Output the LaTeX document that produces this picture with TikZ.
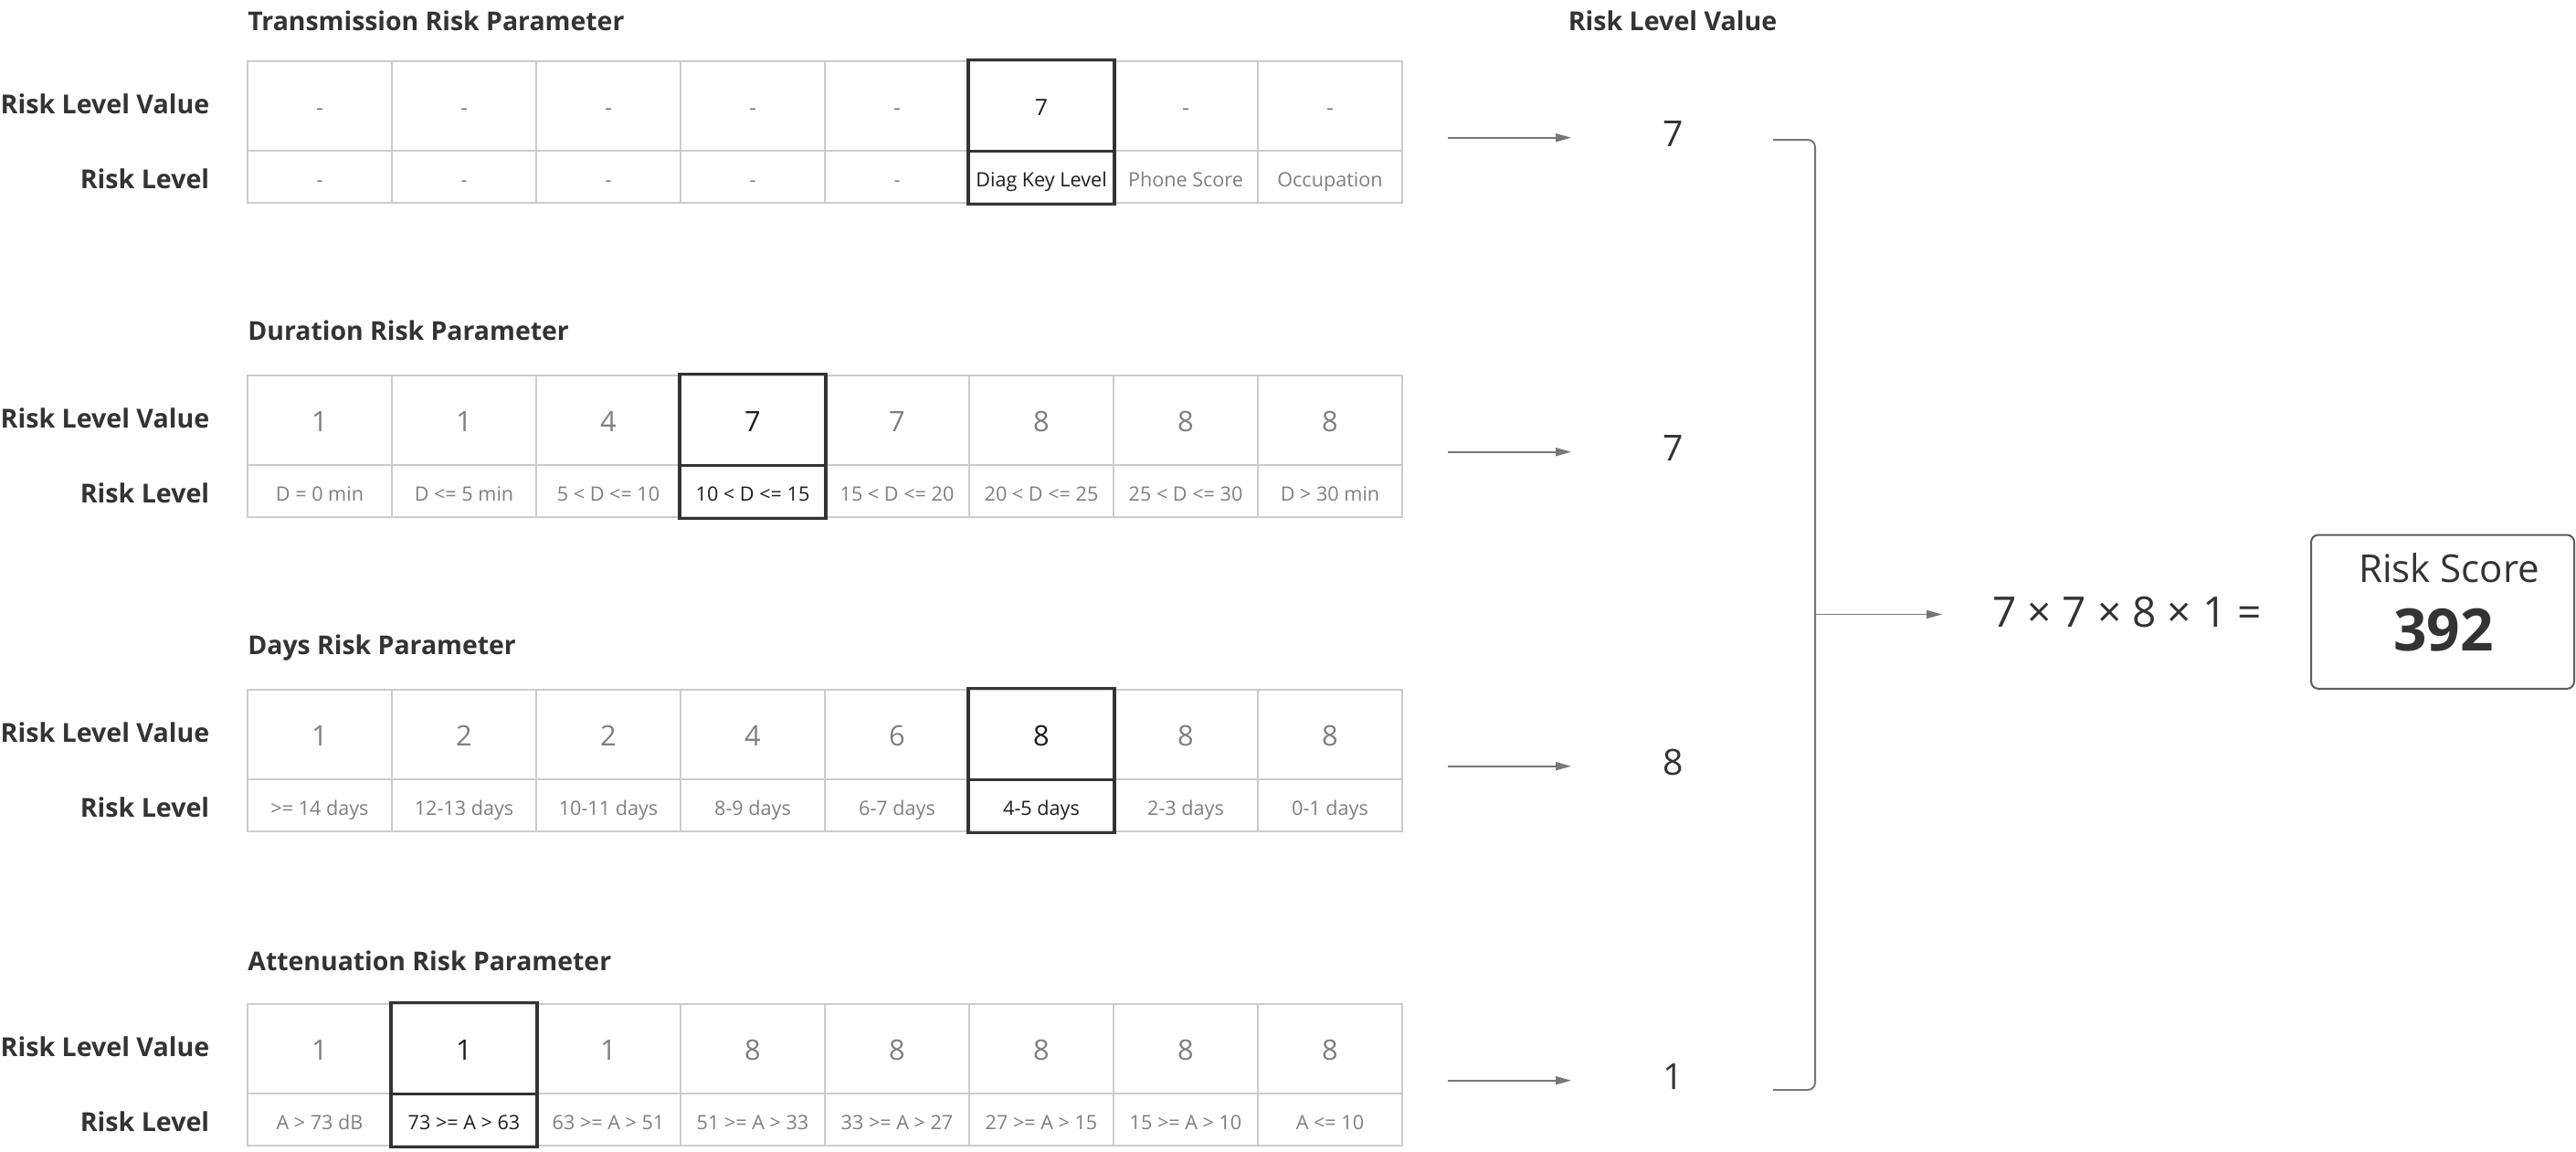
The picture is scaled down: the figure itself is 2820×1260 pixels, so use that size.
\documentclass[tikz,border=0pt]{standalone}
\usepackage{fontspec}
\setmainfont{Open Sans}
\usetikzlibrary{arrows.meta}
\definecolor{gridc}{HTML}{CCCCCC}
\definecolor{txtg}{HTML}{7F7F7F}
\definecolor{dark}{HTML}{333333}
\definecolor{hlc}{HTML}{1E1E1E}
\definecolor{arrc}{HTML}{777777}
\tikzset{
  valcell/.style={draw=gridc, line width=1pt, minimum width=79pt, minimum height=49pt, inner sep=0pt, text depth=0pt},
  lvlcell/.style={draw=gridc, line width=1pt, minimum width=79pt, minimum height=28.8pt, inner sep=0pt,
                  text height=11pt, text depth=0pt, font=\fontsize{10.8}{12}\selectfont},
  hlbox/.style={draw=dark, line width=1.75pt},
  rowlabel/.style={font=\bfseries\fontsize{14.3}{16}\selectfont, text=dark, inner sep=0pt, anchor=base east},
  ttl/.style={font=\bfseries\fontsize{14.2}{16}\selectfont, text=dark, inner sep=0pt, anchor=base west},
  resval/.style={font=\fontsize{19.6}{22}\selectfont, text=dark, inner sep=0pt, anchor=base},
  conn/.style={draw=arrc, line width=0.85pt, -{Triangle[length=8.5pt,width=4.5pt]}},
  brk/.style={draw=arrc, line width=1pt, rounded corners=4pt},
  scorebox/.style={draw=dark!80, line width=1pt, rounded corners=4pt},
}
% #1 index, #2 title, #3 highlighted column, #4 value font, #5 value text height, #6 title baseline, #7 cells
\newcommand\paramtable[7]{%
  \node[ttl] (title#1) at (271,#6) {#2};
  \node[rowlabel] (rlv#1) at (229.6,{124.5+344*#1}) {Risk Level Value};
  \node[rowlabel] (rl#1) at (229.6,{206.5+344*#1}) {Risk Level};
  \foreach \v/\l [count=\i] in {#7}{%
    \ifnum\i=#3\relax\def\tc{hlc}\else\def\tc{txtg}\fi
    \node[valcell, text=\tc, font=#4, text height=#5] (t#1v\i) at ({192+158*\i},{115.7+344*#1}) {\v};
    \node[lvlcell, text=\tc] (t#1l\i) at ({192+158*\i},{193.5+344*#1}) {\l};
  }
  \draw[hlbox] (t#1v#3.north west) rectangle (t#1l#3.south east);
  \draw[hlbox] (t#1v#3.south west) -- (t#1v#3.south east);
}
\begin{document}
\begin{tikzpicture}[x=0.5pt,y=-0.5pt]
\useasboundingbox (0,0) rectangle (2820,1260);
\fill[white] (0,0) rectangle (2820,1260);

\paramtable{0}{Transmission Risk Parameter}{6}{\fontsize{12.4}{14}\selectfont}{10.3pt}{33.3}{%
  -/-, -/-, -/-, -/-, -/-, 7/Diag Key Level, -/Phone Score, -/Occupation}
\paramtable{1}{Duration Risk Parameter}{4}{\fontsize{15.4}{18}\selectfont}{12.3pt}{372.7}{%
  1/D = 0 min, 1/D <= 5 min, 4/5 < D <= 10, 7/10 < D <= 15, 7/15 < D <= 20, 8/20 < D <= 25, 8/25 < D <= 30, 8/D > 30 min}
\paramtable{2}{Days Risk Parameter}{6}{\fontsize{15.4}{18}\selectfont}{12.3pt}{716}{%
  1/>= 14 days, 2/12-13 days, 2/10-11 days, 4/8-9 days, 6/6-7 days, 8/4-5 days, 8/2-3 days, 8/0-1 days}
\paramtable{3}{Attenuation Risk Parameter}{2}{\fontsize{15.4}{18}\selectfont}{12.3pt}{1062.7}{%
  1/A > 73 dB, 1/73 >= A > 63, 1/63 >= A > 51, 8/51 >= A > 33, 8/33 >= A > 27, 8/27 >= A > 15, 8/15 >= A > 10, 8/A <= 10}

% right column
\node[rowlabel, anchor=base] (hdr) at (1831,33.3) {Risk Level Value};
\node[resval] (r0) at (1832,160) {7};
\node[resval] (r1) at (1832,504) {7};
\node[resval] (r2) at (1832,848) {8};
\node[resval] (r3) at (1832,1192.6) {1};

\foreach \k in {0,1,2,3}{
  \coordinate (as\k) at (1585,{150.7+344*\k});
  \coordinate (ae\k) at (1720,{150.7+344*\k});
  \draw[conn] (as\k) -- (ae\k);
}

% bracket
\coordinate (bt) at (1941,153);
\coordinate (bb) at (1941,1193);
\coordinate (bm) at (1987,672.5);
\draw[brk] (bt) -- (1987,153) -- (1987,1193) -- (bb);
\coordinate (me) at (2126,672.5);
\draw[conn] (bm) -- (me);

\node[inner sep=0pt, anchor=base, text=dark, font=\fontsize{23}{26}\selectfont] (eq) at (2328.5,686) {7 × 7 × 8 × 1 =};

\node[scorebox, minimum width=144pt, minimum height=84.2pt, inner sep=0pt] (box) at (2674,669.7) {};
\node[inner sep=0pt, anchor=base, text=dark, font=\fontsize{21}{24}\selectfont] (rs) at (2681,637) {Risk Score};
\node[inner sep=0pt, anchor=base, text=dark, font=\bfseries\fontsize{32}{36}\selectfont] (score) at (2675,712) {392};
\end{tikzpicture}
\end{document}
